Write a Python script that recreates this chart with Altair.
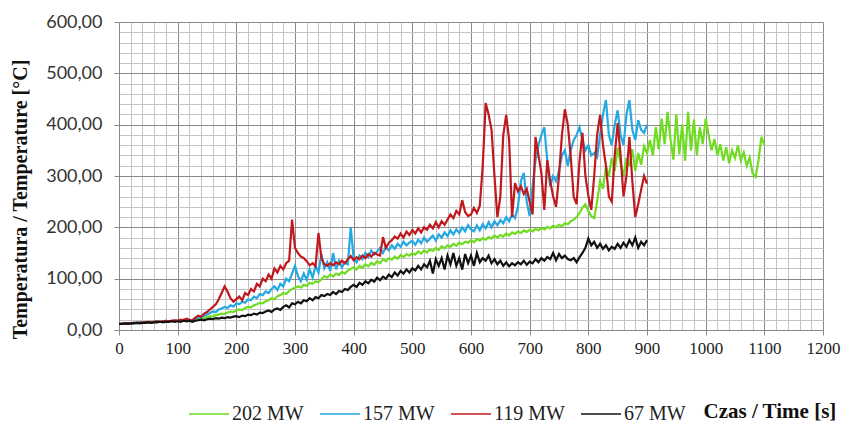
import altair as alt
import pandas as pd

# Sampling step of the recorded temperatures [s]
STEP = 5

series_names = ["202 MW", "157 MW", "119 MW", "67 MW"]
series_colors = ["#6fdc21", "#22a8e2", "#c0181d", "#111111"]

# 202 MW, t = 0 ... 1100 s
temp_202 = [
    12, 12, 12, 13, 13, 13, 14, 14, 14, 15, 15, 15, 16, 16, 16, 17, 17, 17, 18, 18,
    18, 19, 19, 18, 17, 19, 20, 22, 21, 24, 25, 27, 26, 29, 30, 32, 31, 34, 36, 35,
    38, 40, 39, 43, 45, 44, 48, 50, 53, 52, 56, 58, 62, 60, 66, 68, 72, 70, 76, 80,
    82, 85, 83, 88, 86, 92, 90, 95, 93, 99, 105, 102, 108, 104, 110, 107, 113, 110, 116, 119,
    122, 118, 125, 121, 128, 124, 131, 127, 134, 130, 138, 134, 140, 137, 143, 139, 146, 142, 148, 145,
    150, 147, 153, 149, 155, 151, 157, 154, 160, 156, 163, 159, 165, 162, 168, 164, 170, 167, 172, 170,
    175, 171, 177, 174, 179, 176, 181, 178, 184, 180, 185, 182, 188, 184, 190, 187, 192, 189, 194, 191,
    195, 192, 197, 194, 199, 196, 201, 198, 203, 200, 205, 202, 208, 206, 212, 215, 220, 228, 238, 245,
    232, 222, 218, 250, 290, 275, 318, 300, 335, 310, 355, 325, 300, 335, 318, 352, 310, 345, 322, 358,
    345, 370, 340, 395, 352, 412, 362, 425, 372, 332, 420, 342, 400, 330, 425, 350, 410, 340, 395, 362,
    412, 380, 350, 372, 340, 362, 330, 356, 325, 350, 335, 360, 330, 346, 320, 336, 305, 298, 330, 376,
    360,
]

# 157 MW, t = 0 ... 900 s
temp_157 = [
    12, 12, 13, 13, 13, 14, 14, 15, 14, 15, 15, 16, 16, 17, 16, 17, 18, 17, 18, 18,
    19, 18, 20, 19, 18, 20, 22, 25, 24, 28, 30, 33, 36, 35, 40, 42, 45, 43, 48, 46,
    52, 50, 55, 53, 60, 58, 65, 62, 70, 68, 75, 72, 80, 85, 78, 90, 85, 100, 95, 110,
    125, 105, 95, 110, 98, 118, 102, 125, 112, 148, 120, 132, 115, 150, 118, 135, 122, 132, 128, 200,
    140, 132, 145, 138, 150, 142, 155, 147, 153, 160, 150, 162, 155, 165, 158, 168, 162, 172, 165, 170,
    174, 166, 176, 169, 180, 172, 178, 184, 174, 186, 180, 190, 183, 194, 186, 196, 189, 200, 192, 204,
    196, 192, 204, 194, 206, 198, 210, 200, 212, 204, 214, 208, 220, 212, 225, 218, 240, 290, 306, 250,
    222, 280, 330, 360, 380, 395, 330, 280, 300, 290, 310, 340, 350, 320, 350, 370, 380, 395, 370, 350,
    360, 340, 345, 337, 380, 420, 448, 380, 360, 400, 428, 380, 360, 420, 448, 390, 370, 409, 390, 384,
    400,
]

# 119 MW, t = 0 ... 900 s
temp_119 = [
    12, 12, 13, 13, 13, 14, 14, 14, 15, 15, 16, 15, 16, 17, 16, 17, 18, 17, 18, 19,
    18, 20, 19, 22, 20, 18, 24, 28, 26, 32, 35, 40, 45, 50, 60, 72, 85, 75, 62, 55,
    60, 65, 58, 72, 68, 80, 75, 90, 85, 100, 95, 108, 100, 120, 112, 125, 118, 130, 135, 215,
    160, 150, 143, 140, 134, 126, 130, 124, 189, 140, 128, 125, 130, 126, 132, 128, 135, 130, 138, 144,
    136, 142, 138, 145, 140, 148, 143, 150, 147, 145, 181, 160, 170, 175, 182, 178, 188, 180, 192, 185,
    195, 188, 198, 190, 200, 195, 205, 198, 210, 200, 212, 205, 215, 225, 218, 232, 225, 253, 230, 222,
    225, 238, 228, 242, 320, 442, 420, 390, 300, 220, 260, 380, 419, 370, 220, 286, 270, 280, 265, 275,
    250, 225, 376, 340, 306, 234, 331, 290, 260, 240, 300, 380, 430, 400, 338, 260, 245, 330, 384, 300,
    262, 234, 300, 380, 419, 360, 320, 260, 250, 340, 403, 340, 260, 300, 376, 290, 220, 245, 273, 300,
    285,
]

# 67 MW, t = 0 ... 900 s
temp_67 = [
    12, 12, 13, 12, 13, 13, 14, 13, 14, 14, 15, 14, 15, 15, 16, 15, 16, 16, 17, 16,
    17, 16, 18, 17, 18, 16, 18, 19, 20, 19, 21, 22, 21, 23, 22, 24, 23, 25, 24, 26,
    27, 25, 28, 27, 30, 29, 32, 30, 34, 33, 36, 38, 35, 40, 42, 39, 45, 48, 44, 52,
    50, 55, 52, 58, 56, 62, 58, 64, 62, 68, 66, 70, 68, 74, 70, 76, 74, 80, 78, 84,
    88, 84, 92, 88, 95, 91, 98, 94, 102, 97, 104, 100, 108, 103, 112, 106, 115, 110, 118, 112,
    120, 116, 125, 118, 128, 122, 135, 110, 138, 125, 140, 118, 145, 128, 150, 125, 140, 118, 148, 130,
    145, 125, 150, 132, 140, 135, 145, 130, 138, 128, 135, 125, 132, 124, 130, 126, 132, 128, 135, 127,
    133, 130, 138, 132, 140, 135, 142, 138, 150, 136, 148, 140, 145, 138, 136, 140, 132, 142, 150, 160,
    178, 165, 172, 160, 168, 158, 165, 155, 162, 158, 168, 160, 170, 162, 175, 165, 180, 160, 172, 165,
    175,
]

x_ticks = list(range(0, 1201, 20))
y_ticks = list(range(0, 601, 20))

frames = []
for name, vals in zip(series_names, [temp_202, temp_157, temp_119, temp_67]):
    frames.append(pd.DataFrame({
        "t": [i * STEP for i in range(len(vals))],
        "T": vals,
        "series": name,
    }))

SERIF = "Liberation Serif"
SANS = "Lato"
major = "datum.value % 100 === 0"

x_axis = alt.Axis(
    values=x_ticks, format="d",
    labelExpr=f"{major} ? datum.label : ''",
    labelFont=SERIF, labelFontSize=17, labelColor="#222",
    labelFlush=False, labelOverlap=False, labelPadding=5,
    gridColor={"condition": {"test": major, "value": "#8a8a8a"}, "value": "#c4c4c4"},
    gridWidth=1,
    tickColor={"condition": {"test": major, "value": "#8a8a8a"}, "value": "transparent"},
    tickSize=5, domainColor="#8a8a8a",
    title="Czas / Time [s]", titleFont=SERIF, titleFontSize=21, titleFontWeight="bold",
    titleColor="#111", titleX=584, titleY=87, titleAlign="left", titleBaseline="alphabetic",
)
y_axis = alt.Axis(
    values=y_ticks,
    labelExpr=f"{major} ? replace(format(datum.value, '.2f'), '.', ',') : ''",
    labelFont=SANS, labelFontSize=18, labelColor="#333",
    labelOverlap=False, labelPadding=12,
    gridColor={"condition": {"test": major, "value": "#8a8a8a"}, "value": "#c4c4c4"},
    gridWidth=1,
    tickColor={"condition": {"test": major, "value": "#8a8a8a"}, "value": "transparent"},
    tickSize=5, domainColor="#8a8a8a",
    title="Temperatura / Temperature [°C]", titleFont=SERIF, titleFontSize=20,
    titleFontWeight="bold", titleColor="#111", titleAngle=270,
    titleX=-99, titleY=177, titleAlign="center", titleBaseline="middle",
)

color = alt.Color(
    "series:N",
    scale=alt.Scale(domain=series_names, range=series_colors),
    legend=alt.Legend(
        title=None, orient="none", direction="horizontal",
        legendX=69, legendY=371,
        symbolType="stroke", symbolSize=1600, symbolStrokeWidth=1.5,
        labelFont=SERIF, labelFontSize=20, labelColor="#222",
        labelOffset=2, columnPadding=13,
    ),
)

layers = []
for df in frames:
    layers.append(
        alt.Chart(df).mark_line(strokeWidth=2.2).encode(
            x=alt.X("t:Q", scale=alt.Scale(domain=[0, 1200], nice=False), axis=x_axis),
            y=alt.Y("T:Q", scale=alt.Scale(domain=[0, 600], nice=False), axis=y_axis),
            color=color,
        )
    )

chart = alt.layer(*layers).properties(
    width=704, height=308,
    autosize=alt.AutoSizeParams(type="none"),
    padding={"left": 119, "top": 22, "right": 21, "bottom": 116},
    background="white",
).configure_view(stroke=None).configure_legend(
    labelFont=SERIF
).configure_axisX(labelFont=SERIF)

chart.save("out.html", embed_options={"renderer": "svg", "actions": False})
